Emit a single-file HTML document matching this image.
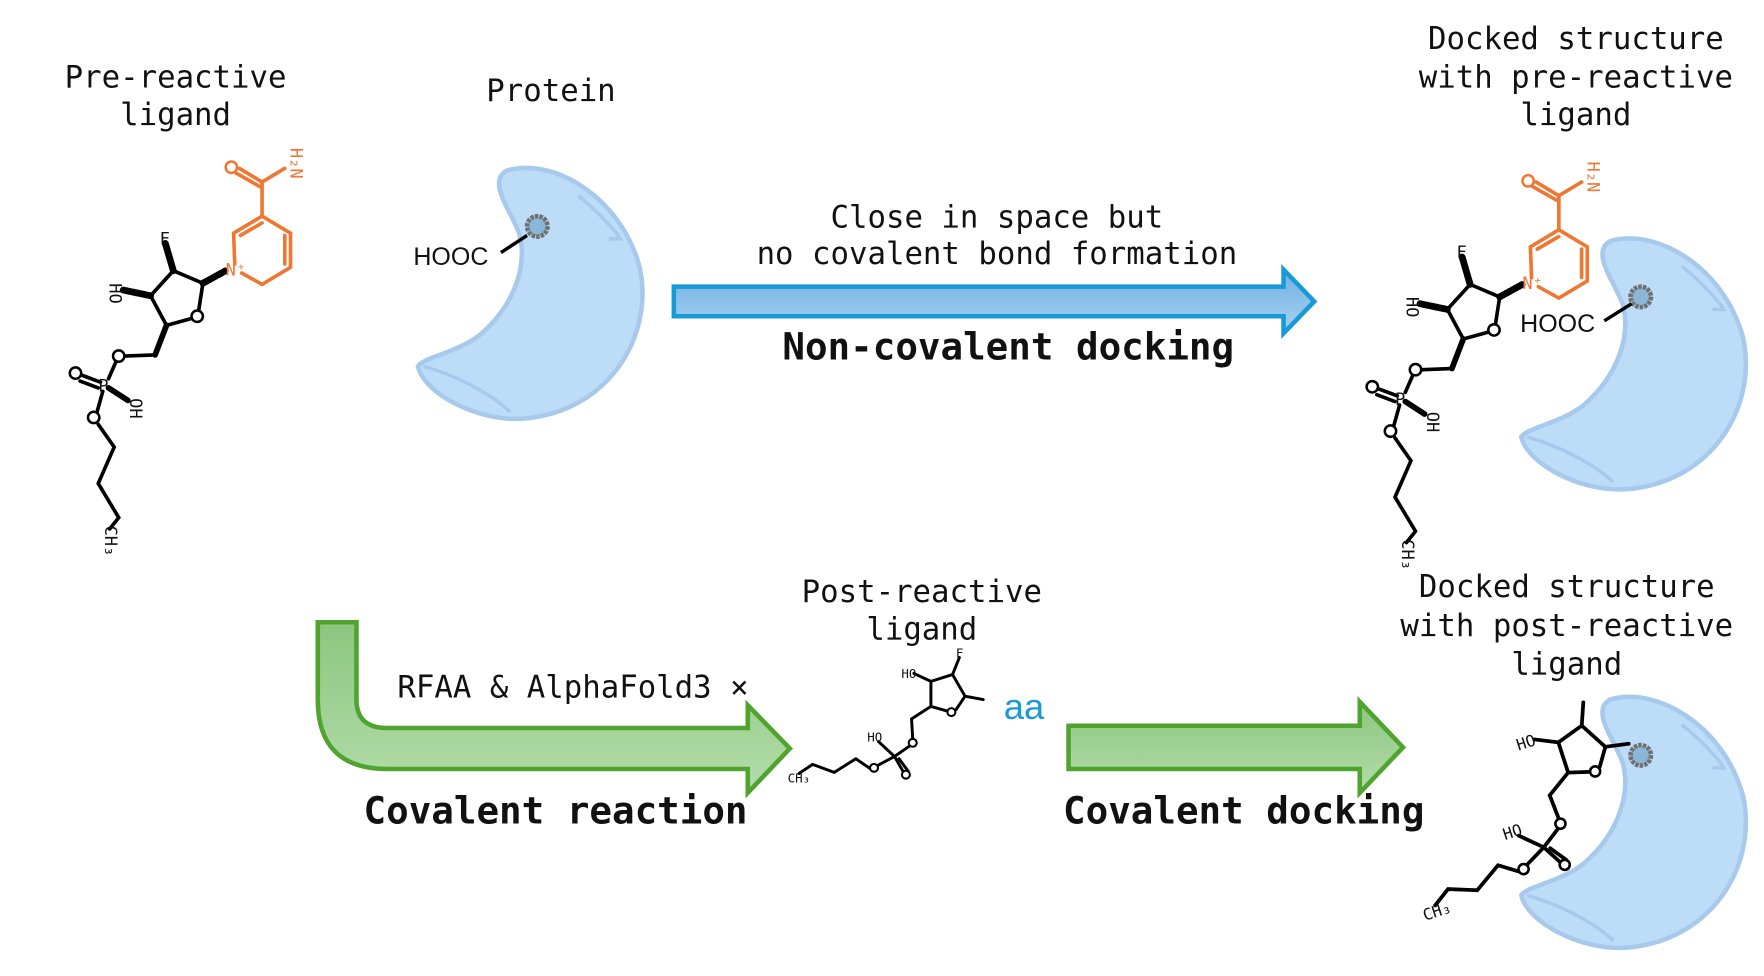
<!DOCTYPE html>
<html><head><meta charset="utf-8"><style>
html,body{margin:0;padding:0;background:#fff;}
svg{display:block;}
text{font-family:"DejaVu Sans Mono","Liberation Mono",monospace;fill:#111;}
.lbl{font-size:27px;}
.big{font-size:33px;font-weight:bold;}
.atom{font-family:"Liberation Sans","DejaVu Sans",sans-serif;font-size:15px;}
</style></head><body>
<svg width="1764" height="976" viewBox="0 0 1550 858" xmlns="http://www.w3.org/2000/svg">
<defs>
<linearGradient id="gb" x1="0" y1="0" x2="0" y2="1"><stop offset="0" stop-color="#6fb0e4"/><stop offset="1" stop-color="#a9d2f2"/></linearGradient>
<linearGradient id="gg" x1="0" y1="0" x2="0" y2="1"><stop offset="0" stop-color="#8cc67f"/><stop offset="1" stop-color="#b3dcaa"/></linearGradient>
<g id="protein">
<path d="M445,150 C485,138 545,172 562,235 C575,295 535,362 460,368 C418,371 372,345 367,322 C372,314 402,310 422,294 C455,265 463,230 456,205 C448,184 428,160 445,150 Z" fill="#bddcf8" stroke="#a6c9ec" stroke-width="4"/>
<path d="M372,322 C400,330 430,345 448,362" fill="none" stroke="#a6c9ec" stroke-width="3"/>
<path d="M508,172 C530,190 542,205 545,210 L535,210" fill="none" stroke="#a6c9ec" stroke-width="3"/>
<circle cx="472" cy="199" r="9" fill="#8ab6d8" stroke="#707070" stroke-width="4" stroke-dasharray="3 1"/>
</g>
<g id="preLig" stroke="#000" stroke-width="3.2" fill="none" stroke-linecap="round">
<path d="M178,249 L174,275 M168,280 L146,286 L132,260 L152,238 L178,249"/>
<path d="M152,238 L145,214" stroke-width="6"/>
<path d="M132,260 L108,255" stroke-dasharray="1.5 1.5" stroke-width="6"/>
<path d="M178,249 L198,238" stroke-dasharray="1.5 1.5" stroke-width="6"/>
<path d="M146,286 L136,312" stroke-width="5"/>
<path d="M136,312 L110,313 M102,317 L95,333 M90,344 L85,362 M86,373 L100,393 L86,425 L104,455 L96,465"/>
<path d="M88,336 L72,330 M86,341 L70,335"/>
<path d="M95,341 L112,352" stroke-width="5"/>
<g stroke="#ee7733"><path d="M206,232 L205,205 L230,190 L255,205 L255,235 L230,250 L212,240 M211,207 L230,196 M250,207 L250,232 M230,190 L230,160 L210,148 M230,160 L250,148 M228,164 L207,152"/></g>
</g>
<g id="postLig" stroke="#000" stroke-width="2.6" fill="none" stroke-linecap="round">
<path d="M818,599 L837,593 L848,612 L840,624 M832,625 L818,621 L818,599 M837,593 L843,578 M818,599 L803,592 M848,612 L864,615 M818,621 L801,632 L802,650 M799,656 L786,665 L772,652 M786,665 L794,679 M790,667 L798,678 M786,665 L771,673 M765,676 L752,667 L733,679 L714,672 L702,680"/>
</g>
</defs>

<text class="lbl" text-anchor="middle" x="154" y="77">Pre-reactive</text>
<text class="lbl" text-anchor="middle" x="154" y="110">ligand</text>
<text class="lbl" text-anchor="middle" x="484" y="89">Protein</text>
<text class="lbl" text-anchor="middle" x="1385" y="43">Docked structure</text>
<text class="lbl" text-anchor="middle" x="1385" y="77">with pre-reactive</text>
<text class="lbl" text-anchor="middle" x="1385" y="110">ligand</text>
<text class="lbl" text-anchor="middle" x="876" y="200">Close in space but</text>
<text class="lbl" text-anchor="middle" x="876" y="232">no covalent bond formation</text>
<text class="big" text-anchor="middle" x="886" y="316">Non-covalent docking</text>
<text class="lbl" text-anchor="middle" x="810" y="529">Post-reactive</text>
<text class="lbl" text-anchor="middle" x="810" y="562">ligand</text>
<text class="lbl" text-anchor="middle" x="1377" y="525">Docked structure</text>
<text class="lbl" text-anchor="middle" x="1377" y="559">with post-reactive</text>
<text class="lbl" text-anchor="middle" x="1377" y="593">ligand</text>
<text class="lbl" x="349" y="613">RFAA &amp; AlphaFold3 ×</text>
<text class="big" text-anchor="middle" x="488" y="724">Covalent reaction</text>
<text class="big" text-anchor="middle" x="1093" y="724">Covalent docking</text>

<path d="M592,252 L1128,252 L1128,237 L1155,265 L1128,293 L1128,278 L592,278 Z" fill="url(#gb)" stroke="#179bd7" stroke-width="4"/>
<path d="M279,547 L313,547 L313,615 Q313,640 340,640 L657,640 L657,620 L694,658 L657,697 L657,676 L340,676 Q279,676 279,615 Z" fill="url(#gg)" stroke="#4fa42e" stroke-width="4"/>
<path d="M939,638 L1195,638 L1195,617 L1233,657 L1195,697 L1195,676 L939,676 Z" fill="url(#gg)" stroke="#4fa42e" stroke-width="4"/>

<g><use href="#protein"/></g>
<text class="atom" x="363" y="233" style="font-size:22px">HOOC</text>
<path d="M440,222 L463,207" stroke="#000" stroke-width="3"/>

<g>
<use href="#preLig"/>
<g class="atom">
<text x="140" y="215">F</text><text x="95" y="262" transform="rotate(90 102 256)">HO</text>
<circle cx="173" cy="278" r="5" fill="#fff" stroke="#000" stroke-width="2.2"/>
<circle cx="104" cy="313" r="5" fill="#fff" stroke="#000" stroke-width="2.2"/>
<circle cx="66" cy="328" r="5" fill="#fff" stroke="#000" stroke-width="2.2"/>
<circle cx="82" cy="367" r="5" fill="#fff" stroke="#000" stroke-width="2.2"/>
<text x="86" y="344">P</text><text x="112" y="360" transform="rotate(90 118 356)">OH</text>
<text x="84" y="470" transform="rotate(90 92 470)">CH₃</text>
<circle cx="203" cy="147" r="5" fill="#fff" stroke="#ee7733" stroke-width="2.2"/>
<text x="245" y="140" transform="rotate(90 255 140)" style="fill:#ee7733">H₂N</text>
<text x="198" y="242" style="fill:#ee7733">N⁺</text>
</g></g>

<g>
<g transform="translate(970,62)"><use href="#protein"/></g>
<text class="atom" x="1336" y="292" style="font-size:22px">HOOC</text>
<path d="M1410,282 L1434,267" stroke="#000" stroke-width="3"/>
<g transform="translate(1140,12)"><use href="#preLig"/>
<g class="atom">
<text x="140" y="215">F</text><text x="95" y="262" transform="rotate(90 102 256)">HO</text>
<circle cx="173" cy="278" r="5" fill="#fff" stroke="#000" stroke-width="2.2"/>
<circle cx="104" cy="313" r="5" fill="#fff" stroke="#000" stroke-width="2.2"/>
<circle cx="66" cy="328" r="5" fill="#fff" stroke="#000" stroke-width="2.2"/>
<circle cx="82" cy="367" r="5" fill="#fff" stroke="#000" stroke-width="2.2"/>
<text x="86" y="344">P</text><text x="112" y="360" transform="rotate(90 118 356)">OH</text>
<text x="84" y="470" transform="rotate(90 92 470)">CH₃</text>
<circle cx="203" cy="147" r="5" fill="#fff" stroke="#ee7733" stroke-width="2.2"/>
<text x="245" y="140" transform="rotate(90 255 140)" style="fill:#ee7733">H₂N</text>
<text x="198" y="242" style="fill:#ee7733">N⁺</text>
</g></g></g>

<g>
<use href="#postLig"/>
<g class="atom" style="font-size:11px">
<circle cx="836" cy="626" r="3.5" fill="#fff" stroke="#000" stroke-width="1.8"/>
<circle cx="802" cy="653" r="3.5" fill="#fff" stroke="#000" stroke-width="1.8"/>
<circle cx="768" cy="675" r="3.5" fill="#fff" stroke="#000" stroke-width="1.8"/>
<circle cx="796" cy="681" r="3.5" fill="#fff" stroke="#000" stroke-width="1.8"/>
<text x="792" y="596">HO</text><text x="762" y="652">HO</text><text x="692" y="688">CH₃</text><text x="840" y="578">F</text>
</g>
<text x="882" y="632" style="font-family:'Liberation Sans','DejaVu Sans',sans-serif;font-size:32px;fill:#1a9ad6">aa</text>
</g>

<g>
<g transform="translate(970,465)"><use href="#protein"/></g>
<g transform="translate(1392,660) scale(1.27) rotate(-18) translate(-833,-610)"><use href="#postLig"/>
<circle cx="836" cy="626" r="3.5" fill="#fff" stroke="#000" stroke-width="1.8"/>
<circle cx="802" cy="653" r="3.5" fill="#fff" stroke="#000" stroke-width="1.8"/>
<circle cx="768" cy="675" r="3.5" fill="#fff" stroke="#000" stroke-width="1.8"/>
<circle cx="796" cy="681" r="3.5" fill="#fff" stroke="#000" stroke-width="1.8"/>
<g class="atom" style="font-size:11px"><text x="790" y="596">HO</text><text x="762" y="652">HO</text><text x="692" y="688">CH₃</text></g>
</g>
</g>
</svg>
</body></html>
